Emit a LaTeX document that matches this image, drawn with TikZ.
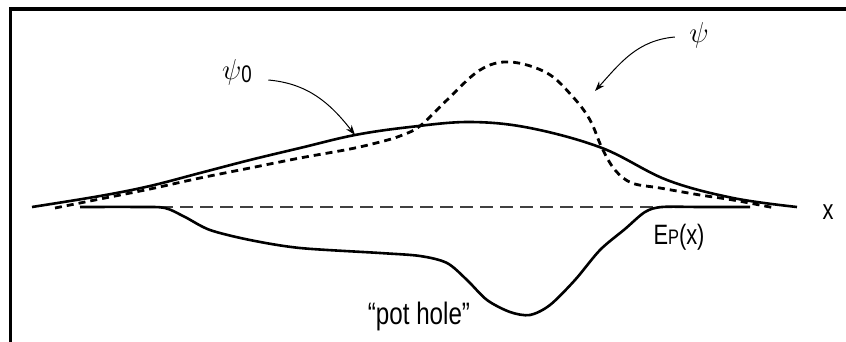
\documentclass[tikz,border=0pt]{standalone}
\usepackage{fontspec}
\setmainfont{Liberation Sans}[FakeStretch=0.78]
\usetikzlibrary{arrows.meta}

\tikzset{
  wave/.style={line width=1.3pt, line join=round},
  trial/.style={line width=1.4pt, dash pattern=on 3.5pt off 2.5pt},
  zeroline/.style={line width=0.6pt, black!75, dash pattern=on 6.5pt off 3.5pt},
  pointer/.style={->, line width=0.5pt},
  lbl/.style={font=\fontsize{14}{16}\selectfont, inner sep=1pt},
}

\begin{document}
\begin{tikzpicture}[>={Stealth[length=5pt, width=3.5pt]}, x=0.5pt, y=-0.5pt]
\useasboundingbox (0,0) rectangle (846,342);

% ============================================================
% MARCO (solo arriba e izquierda)
% ============================================================
\draw[line width=1.6pt] (846,9) -- (10.5,9) -- (10.5,342);

% ============================================================
% EJE x y potencial
% ============================================================

% Linea de cero
\draw[zeroline] (160,207) -- (655,207);

% Potencial con el bache
\draw[wave] plot[smooth, tension=0.5] coordinates {
    (80,207) (140,207) (165,208) (185,217) (210,230) (250,240)
    (300,248) (380,253) (420,256) (447,263) (467,280) (487,300)
    (510,312) (530,315) (550,305) (575,280) (600,250) (625,229)
    (645,212) (662,207) (700,207) (750,207)};

% ============================================================
% FUNCIONES DE ONDA
% ============================================================

% psi_0 (continua)
\draw[wave] plot[smooth, tension=0.6] coordinates {
    (32,207) (100,196) (150,186) (200,173) (250,160) (300,148)
    (355,135) (410,127) (470,122) (530,128) (602,148) (667,180)
    (733,198) (797,207)};

% psi (punteada)
\draw[trial] plot[smooth, tension=0.6] coordinates {
    (55,208) (100,199) (150,189) (200,178) (250,168) (300,158)
    (350,149) (380,142) (400,136) (420,126) (447,100) (480,70)
    (510,62) (547,73) (573,97) (590,120) (602,148) (615,170)
    (632,183) (660,188) (700,195) (733,200) (775,208)};

% ============================================================
% ETIQUETAS
% ============================================================

\node[lbl] (lbl-psi0) at (237,72) {\fontsize{15}{17}\selectfont$\psi$\raisebox{-1.5pt}{\fontsize{12}{14}\selectfont 0}};
\coordinate (psi0-tip) at (355,135);
\draw[pointer] (lbl-psi0.east) ++(14,8) coordinate (psi0-start)
    (psi0-start) to[out=-5, in=128] (psi0-tip);

\node[lbl] (lbl-psi) at (699,35) {\fontsize{15}{17}\selectfont$\psi$};
\coordinate (psi-tip) at (595,91);
\draw[pointer] (lbl-psi.west) ++(-12,2) coordinate (psi-start)
    (psi-start) to[out=185, in=48] (psi-tip);

\node[lbl] (lbl-x) at (828,212) {x};
\node[lbl] (lbl-ep) at (679,237) {E{\fontsize{10.5}{12}\selectfont P}(x)};
\node[lbl, font=\fontsize{15.5}{17}\selectfont] (lbl-hole) at (419,316) {“pot hole”};

\end{tikzpicture}
\end{document}
